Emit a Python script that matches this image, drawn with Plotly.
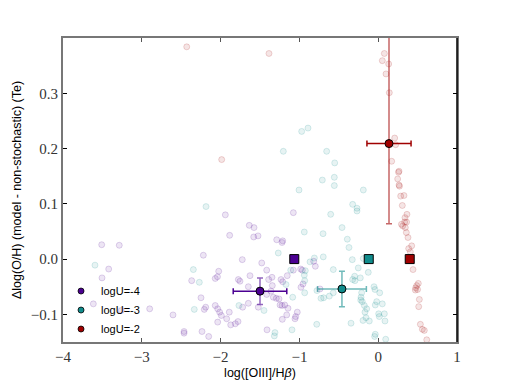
"""Delta log(O/H) vs [OIII]/Hbeta for three ionisation parameters."""

import plotly.graph_objects as go

# faint scatter of individual models, one group per logU
u4_x = [-1.94, -1.077, -3.509, -3.286, -3.42, -3.505, -3.615, -3.26, -2.90, -2.604,
        -2.464, -2.464, -2.236, -2.151, -2.219, -2.367, -2.249, -2.189,
        -1.636, -1.576, -1.525, -1.58, -1.885, -1.725, -1.478, -2.024, -2.04, -2.068,
        -1.627, -1.775, -1.754, -1.648, -2.207, -2.068, -2.037, -2.012, -1.991, -1.89,
        -1.72, -1.648, -1.522, -1.923, -2.037, -1.872, -1.813, -1.779,
        -1.288, -1.212, -1.22, -0.818, -0.798, -1.415, -1.077, -0.984, -0.963, -1.348,
        -1.39, -1.154, -1.233, -1.212, -0.954, -0.98, -1.344, -1.36, -1.415, -1.331,
        -1.293, -1.259, -1.246, -1.22, -1.186, -0.739, -1.145, -1.027, -1.161, -1.047,
        -1.056, -1.217, -1.411]
u4_y = [0.080, 0.084, 0.026, 0.025, -0.018, -0.034, -0.081, -0.093, -0.090, -0.101,
        -0.131, -0.134, -0.131, -0.140, 0.007, -0.039, -0.070, -0.087,
        0.061, 0.057, 0.042, 0.040, 0.043, -0.001, -0.007, -0.022, -0.032, -0.035,
        -0.030, -0.037, -0.040, -0.050, -0.091, -0.084, -0.090, -0.096, -0.102, -0.096,
        -0.087, -0.080, -0.087, -0.108, -0.114, -0.119, -0.117, -0.113,
        0.035, 0.033, 0.030, -0.004, -0.013, -0.020, -0.020, -0.018, -0.020, -0.033,
        -0.037, -0.030, -0.037, -0.041, -0.045, -0.051, -0.048, -0.058, -0.064, -0.069,
        -0.071, -0.072, -0.083, -0.084, -0.083, -0.054, -0.089, -0.096, -0.101, -0.104,
        -0.108, -0.109, -0.128]

u3_x = [-0.891, -0.971, -1.204, -0.654, -0.709, -1.005, -0.552, -0.557, -0.557, -0.189,
        -0.324, -0.269, -0.269, -0.603, -2.185, -3.594, -2.346, -2.27, -2.334, -1.767,
        -0.459, -0.938, -0.70, -1.268, -0.865, -0.81, -0.697, -1.11, -0.925, -0.57,
        -0.938, -0.933, -1.17, -1.085, -0.933, -0.777, -0.726, -0.692, -0.62, -0.57,
        -1.449, -1.094, -0.78, -1.31, -1.318,
        -0.392, -0.371, -0.329, -0.189, -0.126, -0.253, -0.299, -0.324, -0.295, -0.227,
        -0.053, -0.041, 0.019, -0.21, -0.218, -0.222, -0.202, -0.019, 0.052, -0.037,
        -0.176, -0.146, -0.168, -0.155, 0.006, 0.014, 0.078, 0.086, -0.193, -0.113,
        -0.345, -0.037, -0.045, 0.095]
u3_y = [0.237, 0.231, 0.195, 0.195, 0.143, 0.125, 0.174, 0.148, 0.133, 0.125,
        0.099, 0.092, 0.087, 0.081, 0.095, -0.011, -0.019, -0.042, -0.091, -0.084,
        0.057, 0.049, 0.046, 0.011, -0.005, 0.002, 0.004, -0.020, -0.021, -0.019,
        -0.029, -0.039, -0.046, -0.069, -0.061, -0.057, -0.071, -0.070, -0.067, -0.061,
        -0.093, -0.128, -0.118, -0.133, -0.139,
        0.036, 0.021, -0.001, 0.001, -0.024, -0.016, -0.031, -0.037, -0.039, -0.034,
        -0.050, -0.055, -0.061, -0.061, -0.069, -0.074, -0.077, -0.077, -0.081, -0.083,
        -0.084, -0.090, -0.096, -0.106, -0.099, -0.104, -0.099, -0.112, -0.111, -0.112,
        -0.116, -0.136, -0.140, -0.145]

u2_x = [-2.43, -1.386, -1.986, 0.078, 0.052, 0.133, 0.099, 0.141, 0.209, 0.222,
        0.171, 0.264, 0.258, 0.247, 0.264, 0.27, 0.285, 0.327, 0.306, 0.365,
        0.340, 0.295, 0.336, 0.36, 0.311, 0.344, 0.357, 0.378, 0.425, 0.387,
        0.408, 0.442, 0.509, 0.489, 0.476, 0.471, 0.50, 0.522, 0.514, 0.535,
        0.56, 0.585, 0.616]
u2_y = [0.384, 0.372, 0.180, 0.372, 0.359, 0.353, 0.335, 0.301, 0.219, 0.207,
        0.177, 0.159, 0.157, 0.145, 0.134, 0.132, 0.114, 0.115, 0.097, 0.081,
        0.075, 0.063, 0.067, 0.067, 0.060, 0.057, 0.048, 0.039, 0.024, 0.019,
        0.013, -0.019, -0.044, -0.048, -0.052, -0.056, -0.055, -0.073, -0.086, -0.118,
        -0.127, -0.129, -0.146]

# mean values with spread, and the non-stochastic reference (squares)
labels = ["logU=-4", "logU=-3", "logU=-2"]
mean_x = [-1.50, -0.46, 0.137]
mean_y = [-0.058, -0.054, 0.209]
xerr = [0.34, 0.31, 0.28]
yerr_up = [0.024, 0.032, 0.25]
yerr_down = [0.024, 0.032, 0.145]
ref_x = [-1.065, -0.12, 0.40]
ref_y = [0.0, 0.0, 0.0]

colors = ["75,0,146", "16,140,140", "160,0,0"]
xerr_alpha = [1.0, 0.6, 1.0]
scatter_sets = [(u4_x, u4_y), (u3_x, u3_y), (u2_x, u2_y)]

fig = go.Figure()

for (xs, ys), rgb in zip(scatter_sets, colors):
    fig.add_trace(go.Scatter(
        x=xs, y=ys, mode="markers", showlegend=False, hoverinfo="skip",
        marker=dict(size=6, color=f"rgba({rgb},0.1)",
                    line=dict(color=f"rgba({rgb},0.16)", width=1)),
    ))

for i, rgb in enumerate(colors):
    fig.add_trace(go.Scatter(
        x=[mean_x[i]], y=[mean_y[i]], mode="markers", showlegend=False,
        marker=dict(size=8, color=f"rgb({rgb})", line=dict(color="black", width=1)),
        error_x=dict(type="data", array=[xerr[i]], color=f"rgba({rgb},{xerr_alpha[i]})",
                     thickness=1.5, width=3),
        error_y=dict(type="data", array=[yerr_up[i]], arrayminus=[yerr_down[i]],
                     color=f"rgba({rgb},0.6)", thickness=1.5, width=3),
    ))
    fig.add_trace(go.Scatter(
        x=[ref_x[i]], y=[ref_y[i]], mode="markers", showlegend=False,
        marker=dict(symbol="square", size=9, color=f"rgb({rgb})",
                    line=dict(color="black", width=1)),
    ))

for name, rgb in zip(labels, colors):
    fig.add_trace(go.Scatter(
        x=[None], y=[None], mode="markers", name=name,
        marker=dict(size=6, color=f"rgb({rgb})", line=dict(color="black", width=0.8)),
    ))

tick_font = dict(family="Liberation Serif", size=15, color="#333")
title_font = dict(family="Liberation Sans", size=12.5, color="black")

# the page body adds an 8px offset, so margins are trimmed to land the axes
fig.update_layout(
    width=507, height=380,
    margin=dict(l=55, r=58, t=30, b=46, autoexpand=False),
    paper_bgcolor="white", plot_bgcolor="white",
    font=dict(family="Liberation Sans", size=11, color="black"),
    legend=dict(x=-0.005, y=-0.005, xanchor="left", yanchor="bottom",
                bgcolor="rgba(0,0,0,0)", font=dict(size=11), itemwidth=30),
    xaxis=dict(
        range=[-4, 1], tickvals=[-4, -3, -2, -1, 0, 1], tickformat="d",
        automargin=False,
        showgrid=False, zeroline=False, showline=True, linecolor="#777", linewidth=2,
        mirror="allticks", ticks="inside", ticklen=4, tickcolor="#555",
        tickfont=tick_font,
        title=dict(text="log([OIII]/H<i>β</i>)", font=title_font, standoff=4),
    ),
    yaxis=dict(
        range=[-0.15, 0.4], tickvals=[-0.1, 0.0, 0.1, 0.2, 0.3], tickformat=".1f",
        automargin=False,
        showgrid=False, zeroline=False, showline=True, linecolor="#777", linewidth=2,
        mirror="allticks", ticks="inside", ticklen=4, tickcolor="black",
        tickfont=tick_font,
        title=dict(text="Δlog(O/H) (model - non-stochastic) (Te)", font=title_font,
                   standoff=6),
    ),
    shapes=[dict(type="line", xref="paper", yref="paper", x0=1, x1=1, y0=0, y1=1,
                 line=dict(color="black", width=1.5))],
)

fig.write_html("out.html")
